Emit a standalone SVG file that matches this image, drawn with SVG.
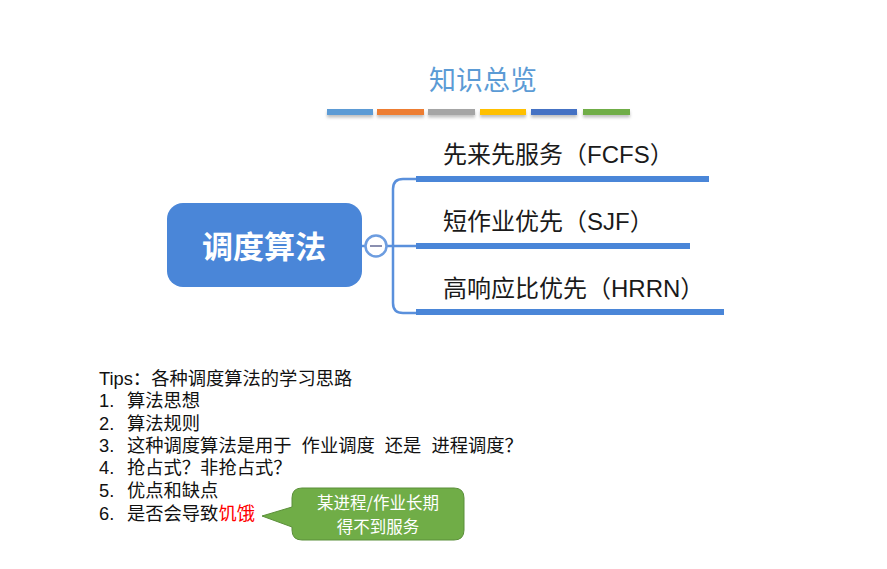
<svg xmlns="http://www.w3.org/2000/svg" width="887" height="569" viewBox="0 0 887 569">
<defs>
<style>
.cjk{font-family:"Noto Sans CJK SC","Liberation Sans",sans-serif}
.tip{font-family:"Liberation Sans","Noto Sans CJK SC",sans-serif;font-size:18.3px;fill:#111}
.bar{filter:url(#sh)}
.ul{fill:#4a86d8}
.conn{fill:none;stroke:#5a90dc;stroke-width:2.5}
.branch{font-family:"Liberation Sans","Noto Sans CJK SC",sans-serif;font-size:24px;fill:#1a1a1a}
</style>
<filter id="sh" x="-10%" y="-50%" width="120%" height="250%">
<feDropShadow dx="0" dy="2.5" stdDeviation="1.5" flood-color="#000" flood-opacity="0.25"/>
</filter>
</defs>
<rect width="887" height="569" fill="#fff"/>
<g id="title">
<text x="483" y="90" text-anchor="middle" class="cjk" font-size="27" fill="#5b9bd5">知识总览</text>
<rect class="bar" x="327" y="109" width="46" height="6" fill="#5b9bd5"/>
<rect class="bar" x="377" y="109" width="47" height="6" fill="#ed7d31"/>
<rect class="bar" x="428" y="109" width="47" height="6" fill="#a5a5a5"/>
<rect class="bar" x="480" y="109" width="46" height="6" fill="#ffc000"/>
<rect class="bar" x="531" y="109" width="46" height="6" fill="#4472c4"/>
<rect class="bar" x="583" y="109" width="47" height="6" fill="#70ad47"/>
</g>
<g id="connectors">
<line class="conn" x1="362" y1="246" x2="366" y2="246"/>
<line class="conn" x1="387" y1="246" x2="417" y2="246"/>
<path class="conn" d="M417,179 H403 Q393,179 393,189 V303 Q393,313 403,313 H417"/>
</g>
<g id="root">
<rect x="167" y="203" width="195" height="84" rx="16" fill="#4a86d8"/>
<text x="264" y="258" text-anchor="middle" class="cjk" font-size="31" font-weight="bold" fill="#fff">调度算法</text>
</g>
<g id="collapse">
<circle cx="376" cy="246" r="10.5" fill="#fff" stroke="#6d9de0" stroke-width="2.5"/>
<line x1="370" y1="246" x2="382" y2="246" stroke="#8a8fb0" stroke-width="2"/>
</g>
<g id="fcfs">
<text x="443" y="163" class="branch">先来先服务（FCFS）</text>
<rect class="ul" x="416" y="176" width="293" height="6"/>
</g>
<g id="sjf">
<text x="443" y="230" class="branch">短作业优先（SJF）</text>
<rect class="ul" x="416" y="243" width="274" height="6"/>
</g>
<g id="hrrn">
<text x="443" y="297" class="branch">高响应比优先（HRRN）</text>
<rect class="ul" x="416" y="309" width="308" height="6"/>
</g>
<g id="tips">
<text x="99" y="385" class="tip">Tips：各种调度算法的学习思路</text>
<text x="99" y="407" class="tip">1.</text><text x="127" y="407" class="tip">算法思想</text>
<text x="99" y="430" class="tip">2.</text><text x="127" y="430" class="tip">算法规则</text>
<text x="99" y="452" class="tip">3.</text><text x="127" y="452" class="tip" word-spacing="5">这种调度算法是用于 作业调度 还是 进程调度？</text>
<text x="99" y="474" class="tip">4.</text><text x="127" y="474" class="tip">抢占式？非抢占式？</text>
<text x="99" y="497" class="tip">5.</text><text x="127" y="497" class="tip">优点和缺点</text>
<text x="99" y="520" class="tip">6.</text><text x="127" y="520" class="tip">是否会导致<tspan fill="#ff0000">饥饿</tspan></text>
</g>
<g id="callout">
<path d="M302,488 H454 Q464,488 464,498 V530 Q464,540 454,540 H302 Q292,540 292,530 V527 L262,516 L292,507 V498 Q292,488 302,488 Z" fill="#70ad47" stroke="#5b8f3a" stroke-width="1"/>
<text x="378" y="509" text-anchor="middle" class="cjk" font-size="16.5" fill="#fff">某进程/作业长期</text>
<text x="378" y="533" text-anchor="middle" class="cjk" font-size="16.5" fill="#fff">得不到服务</text>
</g>
</svg>
